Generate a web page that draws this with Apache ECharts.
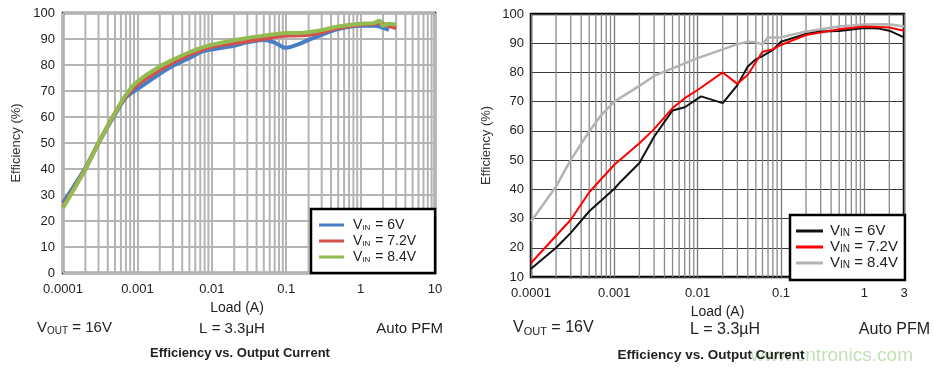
<!DOCTYPE html>
<html>
<head>
<meta charset="utf-8">
<script src="https://cdn.jsdelivr.net/npm/echarts@6/dist/echarts.min.js"></script>
<style>html,body{margin:0;padding:0;background:#fff}#c{width:933px;height:372px}</style>
</head>
<body>
<div id="c"></div>
<script>
// ---------- DATA ----------
// Left chart (VIN = 6V / 7.2V / 8.4V), x = Load (A)
const leftX     = [0.0001,0.0002,0.0003,0.0005,0.0007,0.001,0.002,0.003,0.005,0.007,0.01,0.02,0.03,0.05,0.07,0.1,0.15,0.2,0.3,0.5,1,1.5,1.8,2,2.4,3];
const leftBlue  = [27,40.5,50,61,67.5,70.7,76.6,79.7,82.7,84.9,86,87.4,88.7,89.6,88.6,86.6,88.1,89.7,91.6,93.8,95.1,95.1,94.8,94.3,93.5,null];
const leftRed   = [25.5,40,50,61.5,68,72.4,78.1,81,84,85.6,87.1,88.4,89.1,90.1,90.8,91.3,91.4,91.6,92.6,94.2,95.6,95.9,96.1,95.9,95.1,94.2];
const leftGreen = [25,40,50,61.5,68.5,73.6,79.4,82,84.9,86.5,87.8,89.5,90.4,91.3,91.8,92.3,92.3,92.6,93.4,94.8,95.9,96.1,97,95.1,95.9,95.5];
// Right chart
const rightBlackX = [0.0001,0.0002,0.0003,0.0005,0.001,0.0012,0.002,0.003,0.005,0.007,0.011,0.02,0.03,0.04,0.05,0.06,0.08,0.1,0.2,0.3,0.5,1,1.5,2,3];
const rightBlack  = [12.8,20,25.1,32.5,40.2,42.7,49,58,67,68.1,71.8,69.5,75.7,82,84.5,85.6,87.7,90.5,93.2,94,94.2,95.2,95,94.3,92];
const rightRedX   = [0.0001,0.0003,0.0005,0.001,0.002,0.003,0.005,0.007,0.01,0.02,0.03,0.04,0.06,0.08,0.1,0.2,0.5,1,2,3];
const rightRed    = [14.8,29.6,39,48.4,55.8,60.6,67.8,71.2,74,80,76.1,79.2,87.1,87.9,89.4,92.8,94.8,95.7,95.4,94.3];
const rightGrayX  = [0.0001,0.0002,0.0003,0.0005,0.0007,0.001,0.002,0.003,0.005,0.01,0.02,0.03,0.04,0.05,0.06,0.07,0.1,0.2,0.5,1,2,3];
const rightGray   = [29,41,50.1,59.8,65.5,70,75.4,78.8,81.4,84.9,87.9,89.7,90.5,90.3,89.6,92,92,94,95.7,96.4,96.5,95.7];
// Tick labels
const leftXTicks  = {0.0001:'0.0001',0.001:'0.001',0.01:'0.01',0.1:'0.1',1:'1',10:'10'};
const rightXTicks = {0.0001:'0.0001',0.001:'0.001',0.01:'0.01',0.1:'0.1',1:'1',3:'3'};
const legendNames = {L6:'V{s|IN} = 6V', L72:'V{s|IN} = 7.2V', L84:'V{s|IN} = 8.4V',
                     R6:'V{s|IN} = 6V', R72:'V{s|IN} = 7.2V', R84:'V{s|IN} = 8.4V'};

// ---------- BUILD ----------
const pairs = (xs, ys) => xs.map((x, i) => [x, ys[i]]).filter(p => p[1] != null);
function minorGrid(fromExp, toExp, max, ymin, ymax) {
  const out = [];
  for (let e = fromExp; e < toExp; e++) {
    for (let m = 2; m <= 9; m++) {
      const v = m * Math.pow(10, e);
      if (v < max * 0.999) { out.push([v, ymin], [v, ymax], [v, '-']); }
    }
  }
  return out;
}
const FONT = '"Liberation Sans", Arial, sans-serif';
function labelFmt(map) {
  return function (v) {
    for (const k in map) { if (Math.abs(Math.log10(v) - Math.log10(+k)) < 1e-6) return map[k]; }
    return '';
  };
}

const chart = echarts.init(document.getElementById('c'), null, {renderer: 'canvas'});
const option = {
  animation: false,
  textStyle: {fontFamily: FONT},
  grid: [
    {left: 63, top: 13, width: 372, height: 260, show: true, borderColor: '#000', borderWidth: 2.5, backgroundColor: '#fff'},
    {left: 531, top: 14, width: 373, height: 263, show: true, borderColor: '#000', borderWidth: 2.5, backgroundColor: '#fff'}
  ],
  xAxis: [
    {type: 'log', gridIndex: 0, min: 0.0001, max: 10, logBase: 10,
     name: 'Load (A)', nameLocation: 'middle', nameGap: 27,
     nameTextStyle: {fontSize: 14, color: '#222', fontFamily: FONT, padding: [0, 24, 0, 0]},
     axisLine: {show: false}, axisTick: {show: false},
     axisLabel: {fontSize: 13, color: '#222', margin: 10, formatter: labelFmt(leftXTicks), showMinLabel: true, showMaxLabel: true},
     splitLine: {show: true, lineStyle: {color: '#b4b4b4', width: 2}}},
    {type: 'log', gridIndex: 1, min: 0.0001, max: 3, logBase: 10,
     name: 'Load (A)', nameLocation: 'middle', nameGap: 26,
     nameTextStyle: {fontSize: 14, color: '#222', fontFamily: FONT},
     axisLine: {show: false}, axisTick: {show: false},
     axisLabel: {fontSize: 13, color: '#222', margin: 10, formatter: labelFmt(rightXTicks), showMinLabel: true, showMaxLabel: true},
     splitLine: {show: true, lineStyle: {color: '#7a7a7a', width: 1.3}}}
  ],
  yAxis: [
    {type: 'value', gridIndex: 0, min: 0, max: 100, interval: 10,
     name: 'Efficiency (%)', nameLocation: 'middle', nameGap: 40,
     nameTextStyle: {fontSize: 13, color: '#333', fontFamily: FONT},
     axisLine: {show: false}, axisTick: {show: false},
     axisLabel: {fontSize: 13, color: '#222', margin: 8},
     splitLine: {show: true, lineStyle: {color: '#b4b4b4', width: 2}}},
    {type: 'value', gridIndex: 1, min: 10, max: 100, interval: 10,
     name: 'Efficiency (%)', nameLocation: 'middle', nameGap: 38,
     nameTextStyle: {fontSize: 13, color: '#333', fontFamily: FONT},
     axisLine: {show: false}, axisTick: {show: false},
     axisLabel: {fontSize: 13, color: '#222', margin: 7},
     splitLine: {show: true, lineStyle: {color: '#3a3a3a', width: 1}}}
  ],
  legend: [
    {data: ['L6', 'L72', 'L84'], orient: 'vertical', left: 311, top: 209, z: 10,
     backgroundColor: '#fff', borderColor: '#000', borderWidth: 2.5, borderRadius: 0,
     padding: [8, 19, 8, 8], itemGap: 0, itemWidth: 25, itemHeight: 3, icon: 'rect',
     formatter: n => legendNames[n], selectedMode: false,
     textStyle: {fontSize: 14, lineHeight: 16, color: '#222', fontFamily: FONT, padding: [0, 0, 0, 4],
                 rich: {s: {fontSize: 8, lineHeight: 16, color: '#222', fontFamily: FONT, padding: [5, 1, 0, 0]}}}},
    {data: ['R6', 'R72', 'R84'], orient: 'vertical', left: 790, top: 215, z: 10,
     backgroundColor: '#fff', borderColor: '#000', borderWidth: 2.5, borderRadius: 0,
     padding: [8, 7, 9, 6], itemGap: 0, itemWidth: 27, itemHeight: 3, icon: 'rect',
     formatter: n => legendNames[n], selectedMode: false,
     textStyle: {fontSize: 15, lineHeight: 16, color: '#222', fontFamily: FONT, padding: [0, 0, 0, 2],
                 rich: {s: {fontSize: 10, lineHeight: 16, color: '#222', fontFamily: FONT, padding: [5, 0, 0, 0]}}}}
  ],
  series: [
    {type: 'line', xAxisIndex: 0, yAxisIndex: 0, silent: true, z: 1, showSymbol: false, symbol: 'none', connectNulls: false,
     lineStyle: {color: '#b4b4b4', width: 2}, data: minorGrid(-4, 1, 10, 0, 100)},
    {type: 'line', xAxisIndex: 1, yAxisIndex: 1, silent: true, z: 1, showSymbol: false, symbol: 'none', connectNulls: false,
     lineStyle: {color: '#8a8a8a', width: 1.3}, data: minorGrid(-4, 1, 3, 10, 100)},
    {name: 'L6', type: 'line', xAxisIndex: 0, yAxisIndex: 0, data: pairs(leftX, leftBlue), smooth: 0.3, showSymbol: false, symbol: 'none', z: 3,
     lineStyle: {color: '#4a7ec4', width: 4}, itemStyle: {color: '#4a7ec4'}},
    {name: 'L72', type: 'line', xAxisIndex: 0, yAxisIndex: 0, data: pairs(leftX, leftRed), smooth: 0.3, showSymbol: false, symbol: 'none', z: 3,
     lineStyle: {color: '#d5504c', width: 4}, itemStyle: {color: '#d5504c'}},
    {name: 'L84', type: 'line', xAxisIndex: 0, yAxisIndex: 0, data: pairs(leftX, leftGreen), smooth: 0.3, showSymbol: false, symbol: 'none', z: 3,
     lineStyle: {color: '#93bb4f', width: 4}, itemStyle: {color: '#93bb4f'}},
    {name: 'R84', type: 'line', xAxisIndex: 1, yAxisIndex: 1, data: pairs(rightGrayX, rightGray), showSymbol: false, symbol: 'none', z: 3,
     lineStyle: {color: '#b3b3b3', width: 2.5}, itemStyle: {color: '#b3b3b3'}},
    {name: 'R6', type: 'line', xAxisIndex: 1, yAxisIndex: 1, data: pairs(rightBlackX, rightBlack), showSymbol: false, symbol: 'none', z: 3,
     lineStyle: {color: '#111', width: 2}, itemStyle: {color: '#111'}},
    {name: 'R72', type: 'line', xAxisIndex: 1, yAxisIndex: 1, data: pairs(rightRedX, rightRed), showSymbol: false, symbol: 'none', z: 3,
     lineStyle: {color: '#ff0000', width: 2}, itemStyle: {color: '#ff0000'}}
  ],
  graphic: [
    {type: 'text', left: 37, top: 320, style: {text: 'V{s|OUT} = 16V', font: '15px ' + FONT, fill: '#222', rich: {s: {fontSize: 10, fontFamily: FONT, fill: '#222', verticalAlign: 'bottom', padding: [7, 0, 0, 0]}}}},
    {type: 'text', x: 232, y: 329, style: {text: 'L = 3.3μH', font: '15px ' + FONT, fill: '#222', align: 'center', verticalAlign: 'middle'}},
    {type: 'text', x: 443, y: 329, style: {text: 'Auto PFM', font: '15px ' + FONT, fill: '#222', align: 'right', verticalAlign: 'middle'}},
    {type: 'text', x: 240, y: 353, style: {text: 'Efficiency vs. Output Current', font: 'bold 13px ' + FONT, fill: '#222', align: 'center', verticalAlign: 'middle'}},
    {type: 'text', left: 513, top: 320, style: {text: 'V{s|OUT} = 16V', font: '16px ' + FONT, fill: '#222', rich: {s: {fontSize: 11, fontFamily: FONT, fill: '#222', verticalAlign: 'bottom', padding: [7, 0, 0, 0]}}}},
    {type: 'text', x: 725, y: 330, style: {text: 'L = 3.3µH', font: '16px ' + FONT, fill: '#222', align: 'center', verticalAlign: 'middle'}},
    {type: 'text', x: 930, y: 330, style: {text: 'Auto PFM', font: '16px ' + FONT, fill: '#222', align: 'right', verticalAlign: 'middle'}},
    {type: 'text', x: 913, y: 356, z: 1, style: {text: 'www.cntronics.com', font: '19px ' + FONT, fill: '#c3dfb6', align: 'right', verticalAlign: 'middle'}},
    {type: 'text', x: 711, y: 355, z: 5, style: {text: 'Efficiency vs. Output Current', font: 'bold 13.5px ' + FONT, fill: '#222', align: 'center', verticalAlign: 'middle'}}
  ]
};
chart.setOption(option);
</script>
</body>
</html>
